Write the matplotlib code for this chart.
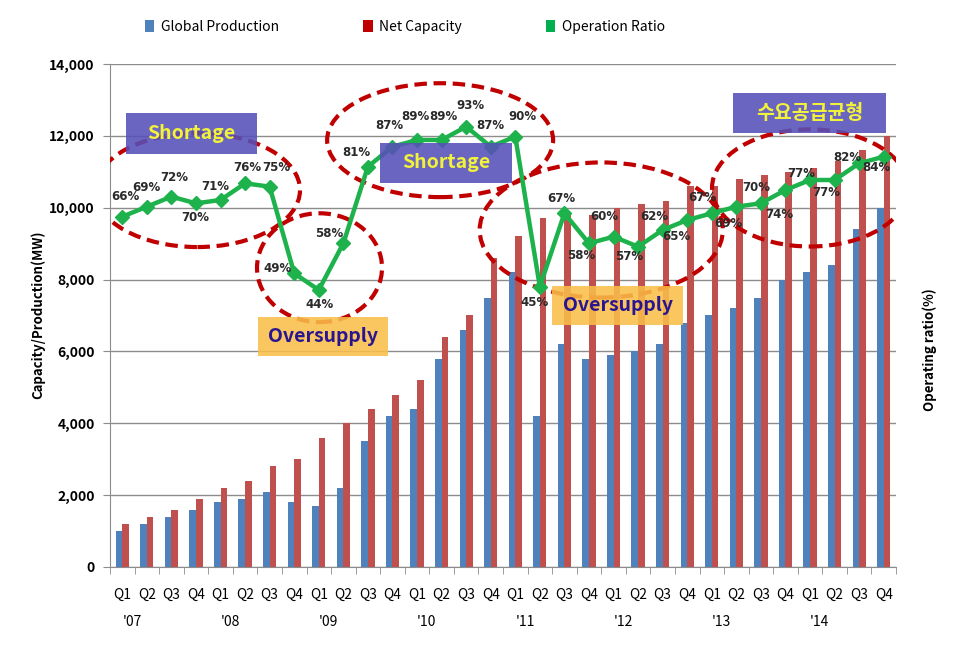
import numpy as np
import matplotlib.pyplot as plt
from matplotlib.patches import Ellipse, Rectangle
from matplotlib.ticker import FuncFormatter
import matplotlib.transforms as mtransforms

plt.rcParams['font.family'] = ['Noto Sans CJK KR', 'DejaVu Sans']

quarters = ['Q1', 'Q2', 'Q3', 'Q4'] * 8
years = ["'07", "'08", "'09", "'10", "'11", "'12", "'13", "'14"]

production = [1000, 1200, 1400, 1600, 1800, 1900, 2100, 1800,
              1700, 2200, 3500, 4200, 4400, 5800, 6600, 7500,
              8200, 4200, 6200, 5800, 5900, 6000, 6200, 6800,
              7000, 7200, 7500, 8000, 8200, 8400, 9400, 10000]
capacity = [1200, 1400, 1600, 1900, 2200, 2400, 2800, 3000,
            3600, 4000, 4400, 4800, 5200, 6400, 7000, 8600,
            9200, 9700, 9800, 9800, 10000, 10100, 10200, 10600,
            10600, 10800, 10900, 11000, 11100, 11300, 11600, 12000]
ratio = [66, 69, 72, 70, 71, 76, 75, 49,
         44, 58, 81, 87, 89, 89, 93, 87,
         90, 45, 67, 58, 60, 57, 62, 65,
         67, 69, 70, 74, 77, 77, 82, 84]

# label offsets in pixels (dx, dy)
lab_off = [(3, 20), (0, 19), (3, 19), (-1, -14), (-5, 13), (2, 16), (7, 19), (-17, 5),
           (1, -15), (-14, 10), (-12, 14), (-3, 21), (-2, 23), (2, 23), (4, 21), (0, 21),
           (7, 20), (-5, -16), (-3, 15), (-8, -12), (-9, 20), (-9, -10), (-8, 13), (-11, -17),
           (-9, 16), (-8, -17), (-5, 16), (-6, -24), (-9, 7), (-8, -12), (-12, 6), (-7, -11)]

blue = '#4F81BD'
red = '#C0504D'
green = '#1DB24B'
dash_red = '#C00000'
purple = '#5550B8'
orange = '#F9BE4A'
yellow = '#F2F23A'
navy = '#2A1591'

fig = plt.figure(figsize=(9.6, 6.5), dpi=100)
ax = fig.add_axes([110/960, 1-567/650, 786/960, 503/650])
x = np.arange(len(quarters))
w = 0.27
ax.bar(x - w/2, production, w, color=blue, zorder=2)
ax.bar(x + w/2, capacity, w, color=red, zorder=2)

ax.set_xlim(-0.5, 31.5)
ax.set_ylim(0, 14000)
ax.set_yticks(range(0, 14001, 2000))
ax.yaxis.set_major_formatter(FuncFormatter(lambda v, p: f'{int(v):,}'))
ax.grid(axis='y', color='#8C8C8C', lw=1, zorder=0.5)
ax.set_axisbelow(True)
for s in ['top', 'right']:
    ax.spines[s].set_visible(False)
ax.spines['left'].set_color('#8C8C8C')
ax.spines['bottom'].set_color('#8C8C8C')
ax.tick_params(axis='y', length=5, color='#8C8C8C', labelsize=10, pad=6)
for t in ax.get_yticklabels():
    t.set_fontweight('bold')
ax.set_xticks(x)
ax.set_xticklabels(quarters, fontsize=10)
ax.tick_params(axis='x', length=0, pad=15)
ax.set_xticks(np.arange(-0.5, 32, 1), minor=True)
ax.tick_params(axis='x', which='minor', length=5, color='#8C8C8C')

trans = mtransforms.blended_transform_factory(ax.transData, ax.transAxes)
for i, yr in enumerate(years):
    ax.text(i*4 + 0.4, -0.11, yr, transform=trans, ha='center', va='center', fontsize=10)

ax2 = ax.twinx()
ax2.set_ylim(-39.1, 111.8)
ax2.axis('off')

# dashed ellipses (in bar-axis units)
ells = [(3.06, 10490, 8.35, 3170), (8.03, 8330, 5.09, 3030), (12.94, 11880, 9.2, 3170),
        (19.5, 9380, 9.9, 3760), (28.0, 10550, 7.98, 3260)]
for cx, cy, ew, eh in ells:
    ax2.add_patch(Ellipse((cx, cy), ew, eh, fill=False, ec=dash_red, lw=3,
                          ls=(0, (3, 1.6)), transform=ax.transData, zorder=3))

ax2.plot(x, ratio, color=green, lw=3.2, marker='D', ms=7, zorder=4)
for xi, r, (dx, dy) in zip(x, ratio, lab_off):
    ax2.annotate(f'{r}%', (xi, r), xytext=(dx, dy), textcoords='offset pixels',
                 ha='center', va='center', fontsize=8.5, fontweight='bold', color='#2A2A2A',
                 family=['DejaVu Sans'], zorder=5)

# annotation boxes (x0, x1, y0, y1) in bar-axis units
boxes = [(0.15, 5.49, 11490, 12640, purple, 'Shortage', yellow),
         (10.5, 15.85, 10690, 11800, purple, 'Shortage', yellow),
         (5.53, 10.82, 5870, 6960, orange, 'Oversupply', navy),
         (17.5, 22.83, 6740, 7820, orange, 'Oversupply', navy),
         (24.87, 31.1, 12080, 13190, purple, '수요공급균형', yellow)]
for x0, x1, y0, y1, fc, txt, tc in boxes:
    ax2.add_patch(Rectangle((x0, y0), x1 - x0, y1 - y0, fc=fc, ec='none', alpha=0.88,
                            transform=ax.transData, zorder=6))
    ax2.text((x0 + x1)/2, (y0 + y1)/2, txt, ha='center', va='center', fontsize=14,
             fontweight='bold', color=tc, transform=ax.transData, zorder=7)

fig.text(38/960, 1-315/650, 'Capacity/Production(MW)', rotation=90, ha='center', va='center',
         fontsize=9.5, fontweight='bold')
fig.text(930/960, 1-350/650, 'Operating ratio(%)', rotation=90, ha='center', va='center',
         fontsize=9.5, fontweight='bold')

handles = [Rectangle((0, 0), 1, 1, fc=blue), Rectangle((0, 0), 1, 1, fc='#C00000'),
           Rectangle((0, 0), 1, 1, fc='#00B050')]
fig.legend(handles, ['Global Production', 'Net Capacity', 'Operation Ratio'], ncol=3,
           loc='center', bbox_to_anchor=(405/960, 1-27/650), frameon=False, fontsize=10,
           handlelength=0.7, handleheight=0.9, handletextpad=0.5, columnspacing=6)

fig.savefig('out.png', dpi=100)
